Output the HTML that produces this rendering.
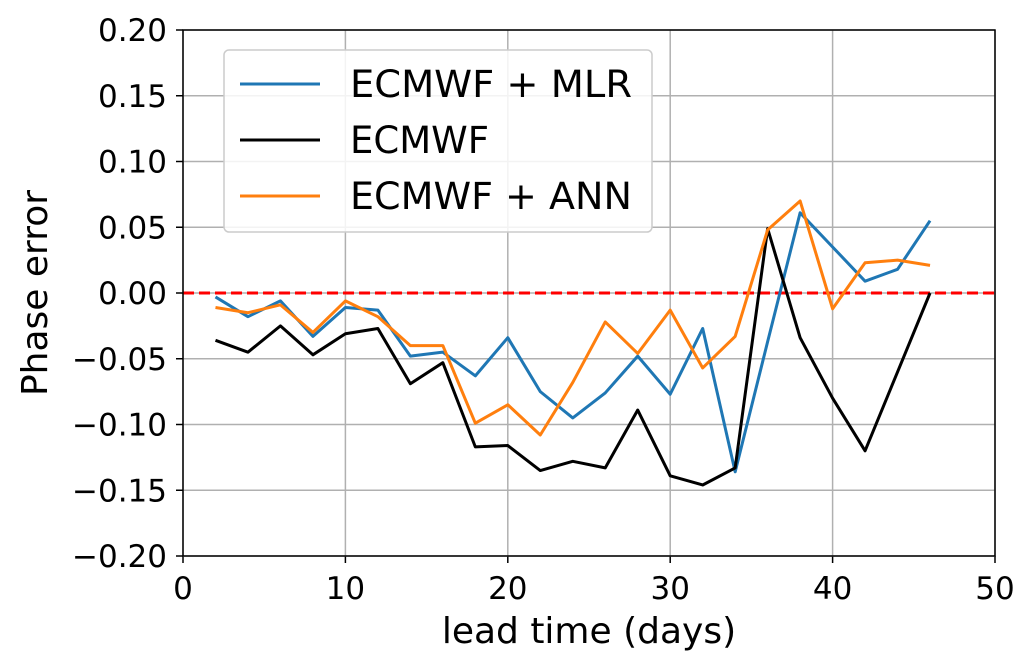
<!DOCTYPE html>
<html><head><meta charset="utf-8"><style>body{margin:0;background:#fff}svg{display:block;font-family:"DejaVu Sans","Liberation Sans",sans-serif}</style></head>
<body>
<svg id="chart" width="1033" height="672" viewBox="0 0 1033 672"></svg>
<script>
const xs=[2,4,6,8,10,12,14,16,18,20,22,24,26,28,30,32,34,36,38,40,42,44,46];
const mlr=[-0.003,-0.018,-0.006,-0.033,-0.011,-0.013,-0.048,-0.045,-0.063,-0.034,-0.075,-0.095,-0.076,-0.048,-0.077,-0.027,-0.136,-0.037,0.061,0.035,0.009,0.018,0.055];
const ecmwf=[-0.036,-0.045,-0.025,-0.047,-0.031,-0.027,-0.069,-0.053,-0.117,-0.116,-0.135,-0.128,-0.133,-0.089,-0.139,-0.146,-0.133,0.049,-0.034,-0.080,-0.120,-0.060,0.000];
const ann=[-0.011,-0.015,-0.009,-0.030,-0.006,-0.018,-0.040,-0.040,-0.099,-0.085,-0.108,-0.068,-0.022,-0.046,-0.013,-0.057,-0.033,0.048,0.070,-0.012,0.023,0.025,0.021];
const xTicks=[0,10,20,30,40,50];
const yTicks=[-0.20,-0.15,-0.10,-0.05,0.00,0.05,0.10,0.15,0.20];
const L=183,R=995,T=30,B=556;
const sx=v=>L+(v-0)/(50-0)*(R-L);
const sy=v=>B-(v+0.2)/0.4*(B-T);
const svg=document.getElementById('chart');
const NS='http://www.w3.org/2000/svg';
function mk(t,a,p){const e=document.createElementNS(NS,t);for(const k in a)e.setAttribute(k,a[k]);(p||svg).appendChild(e);return e;}
xTicks.forEach(v=>{
 const g=mk('line',{x1:sx(v),x2:sx(v),y1:T,y2:B,stroke:'#b0b0b0','stroke-width':1.5});
 
 
 mk('line',{x1:sx(v),x2:sx(v),y1:B,y2:B+7,stroke:'#000','stroke-width':1.5});
 const t=mk('text',{x:sx(v),y:B+43,'text-anchor':'middle','font-size':31});t.textContent=v;
 
 
});
yTicks.forEach(v=>{
 const g=mk('line',{x1:L,x2:R,y1:sy(v),y2:sy(v),stroke:'#b0b0b0','stroke-width':1.5});
 
 
 mk('line',{x1:L-7,x2:L,y1:sy(v),y2:sy(v),stroke:'#000','stroke-width':1.5});
 const t=mk('text',{x:L-16,y:sy(v)+11,'text-anchor':'end','font-size':31});t.textContent=v.toFixed(2).replace('-','\u2212');
 
 
});
const z=mk('line',{x1:L,x2:R,y1:sy(0),y2:sy(0),stroke:'#ff0000','stroke-width':3,'stroke-dasharray':'11,5'});


function series(arr,col,name){
 const p=mk('polyline',{points:xs.map((x,i)=>sx(x)+','+sy(arr[i])).join(' '),fill:'none',stroke:col,'stroke-width':3,'stroke-linejoin':'round'});
 
 
}
series(mlr,'#1f77b4','series-ecmwf-mlr');
series(ecmwf,'#000000','series-ecmwf');
series(ann,'#ff7f0e','series-ecmwf-ann');
const fr=mk('rect',{x:L,y:T,width:R-L,height:B-T,fill:'none',stroke:'#000','stroke-width':1.5});


const lg=mk('g',{});


mk('rect',{x:224,y:50,width:428,height:182,rx:5,fill:'#fff','fill-opacity':0.85,stroke:'#ccc','stroke-width':1.5},lg);
[['ECMWF + MLR','#1f77b4'],['ECMWF','#000'],['ECMWF + ANN','#ff7f0e']].forEach((e,i)=>{
 const y=84+i*56;
 const ln=mk('line',{x1:240,x2:320,y1:y,y2:y,stroke:e[1],'stroke-width':3},lg);
 
 
 const t=mk('text',{x:350,y:y+13,'font-size':37,textLength:282,lengthAdjust:'spacingAndGlyphs'},lg);t.textContent=e[0];
 if(i===1){t.removeAttribute('textLength');t.removeAttribute('lengthAdjust');}
 
 
});
const xt=mk('text',{x:(L+R)/2,y:643,'text-anchor':'middle','font-size':36});xt.textContent='lead time (days)';


const yt=mk('text',{x:47,y:(T+B)/2,'text-anchor':'middle','font-size':36,transform:`rotate(-90 47 ${(T+B)/2})`});yt.textContent='Phase error';


</script>
</body></html>
